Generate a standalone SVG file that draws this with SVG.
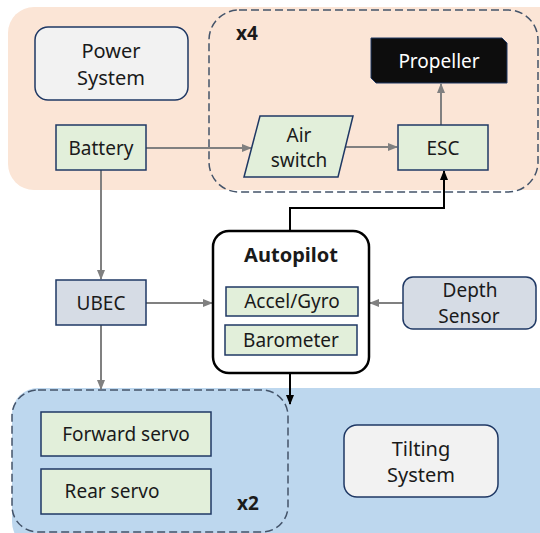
<svg xmlns="http://www.w3.org/2000/svg" width="540" height="533" viewBox="0 0 540 533">
<defs>
<style>
text{font-family:"Noto Sans","Liberation Sans",sans-serif;font-size:19px;fill:#1a1a1a;text-anchor:middle}
.g{fill:#e2efda;stroke:#1f3864;stroke-width:1.5}
.b{fill:#d6dce5;stroke:#1f3864;stroke-width:1.5}
.l{fill:#f2f2f2;stroke:#1f3864;stroke-width:1.5}
.dash{fill:none;stroke:#44546a;stroke-width:1.5;stroke-dasharray:8 4}
.gc{fill:none;stroke:#808080;stroke-width:2}
.kc{fill:none;stroke:#000;stroke-width:2}
</style>
<marker id="ga" viewBox="0 0 10 10" refX="9" refY="5" markerWidth="5" markerHeight="5" orient="auto"><path d="M0,1 L10,5 L0,9 z" fill="#808080"/></marker>
<marker id="ka" viewBox="0 0 10 10" refX="9" refY="5" markerWidth="5" markerHeight="5" orient="auto"><path d="M0,1 L10,5 L0,9 z" fill="#000"/></marker>
</defs>
<rect x="8" y="7" width="560" height="183" rx="26" fill="#fbe5d6"/>
<rect x="12" y="388" width="560" height="160" rx="26" fill="#bdd7ee"/>
<g id="group-x4"><rect class="dash" x="209" y="10" width="329" height="182" rx="30"/><text x="247" y="40" style="font-weight:bold">x4</text></g>
<g id="group-x2"><rect class="dash" x="12" y="390" width="276" height="142" rx="26"/><text x="248" y="510" style="font-weight:bold">x2</text></g>
<g id="connectors">
<path class="gc" d="M146,148 H251" marker-end="url(#ga)"/>
<path class="gc" d="M339,147 H397" marker-end="url(#ga)"/>
<path class="gc" d="M441,125 V84" marker-end="url(#ga)"/>
<path class="gc" d="M101,170 V279" marker-end="url(#ga)"/>
<path class="gc" d="M146,303 H212" marker-end="url(#ga)"/>
<path class="gc" d="M101,325 V389" marker-end="url(#ga)"/>
<path class="gc" d="M403,303 H370" marker-end="url(#ga)"/>
<path class="kc" d="M290,231 V208 H444 V171" marker-end="url(#ka)"/>
<path class="kc" d="M290,373 V404" marker-end="url(#ka)"/>
</g>
<g id="power-system"><rect class="l" x="35" y="27" width="153" height="73" rx="13"/><text x="111" y="58" style="font-size:20px">Power</text><text x="111" y="85" style="font-size:20px">System</text></g>
<g id="battery"><rect class="g" x="56" y="125" width="90" height="45"/><text x="101" y="155">Battery</text></g>
<g id="air-switch"><polygon class="g" points="260,116 353,116 338,177 244,177"/><text x="299" y="142">Air</text><text x="299" y="167">switch</text></g>
<g id="esc"><rect class="g" x="398" y="125" width="90" height="45"/><text x="443" y="155">ESC</text></g>
<g id="propeller"><polygon points="371,38 502,38 507,43 507,83 376,83 371,78" fill="#0d0d0d" stroke="#1f3864" stroke-width="1"/><text x="439" y="68" style="fill:#fff">Propeller</text></g>
<g id="ubec"><rect class="b" x="56" y="280" width="90" height="45"/><text x="101" y="310">UBEC</text></g>
<g id="autopilot"><rect x="213" y="231" width="156" height="142" rx="16" fill="#fff" stroke="#000" stroke-width="2.5"/><text x="291" y="262" style="font-weight:bold;font-size:20px">Autopilot</text>
<rect class="g" x="226" y="287" width="132" height="29"/><text x="292" y="308">Accel/Gyro</text>
<rect class="g" x="225" y="325" width="132" height="30"/><text x="291" y="347">Barometer</text></g>
<g id="depth-sensor"><rect class="b" x="403" y="277" width="133" height="52" rx="10"/><text x="470" y="297">Depth</text><text x="469" y="323">Sensor</text></g>
<g id="forward-servo"><rect class="g" x="41" y="412" width="170" height="44"/><text x="126" y="441">Forward servo</text></g>
<g id="rear-servo"><rect class="g" x="41" y="469" width="170" height="45"/><text x="112" y="498">Rear servo</text></g>
<g id="tilting-system"><rect class="l" x="344" y="425" width="154" height="72" rx="13"/><text x="421" y="456" style="font-size:20px">Tilting</text><text x="421" y="482" style="font-size:20px">System</text></g>
</svg>
